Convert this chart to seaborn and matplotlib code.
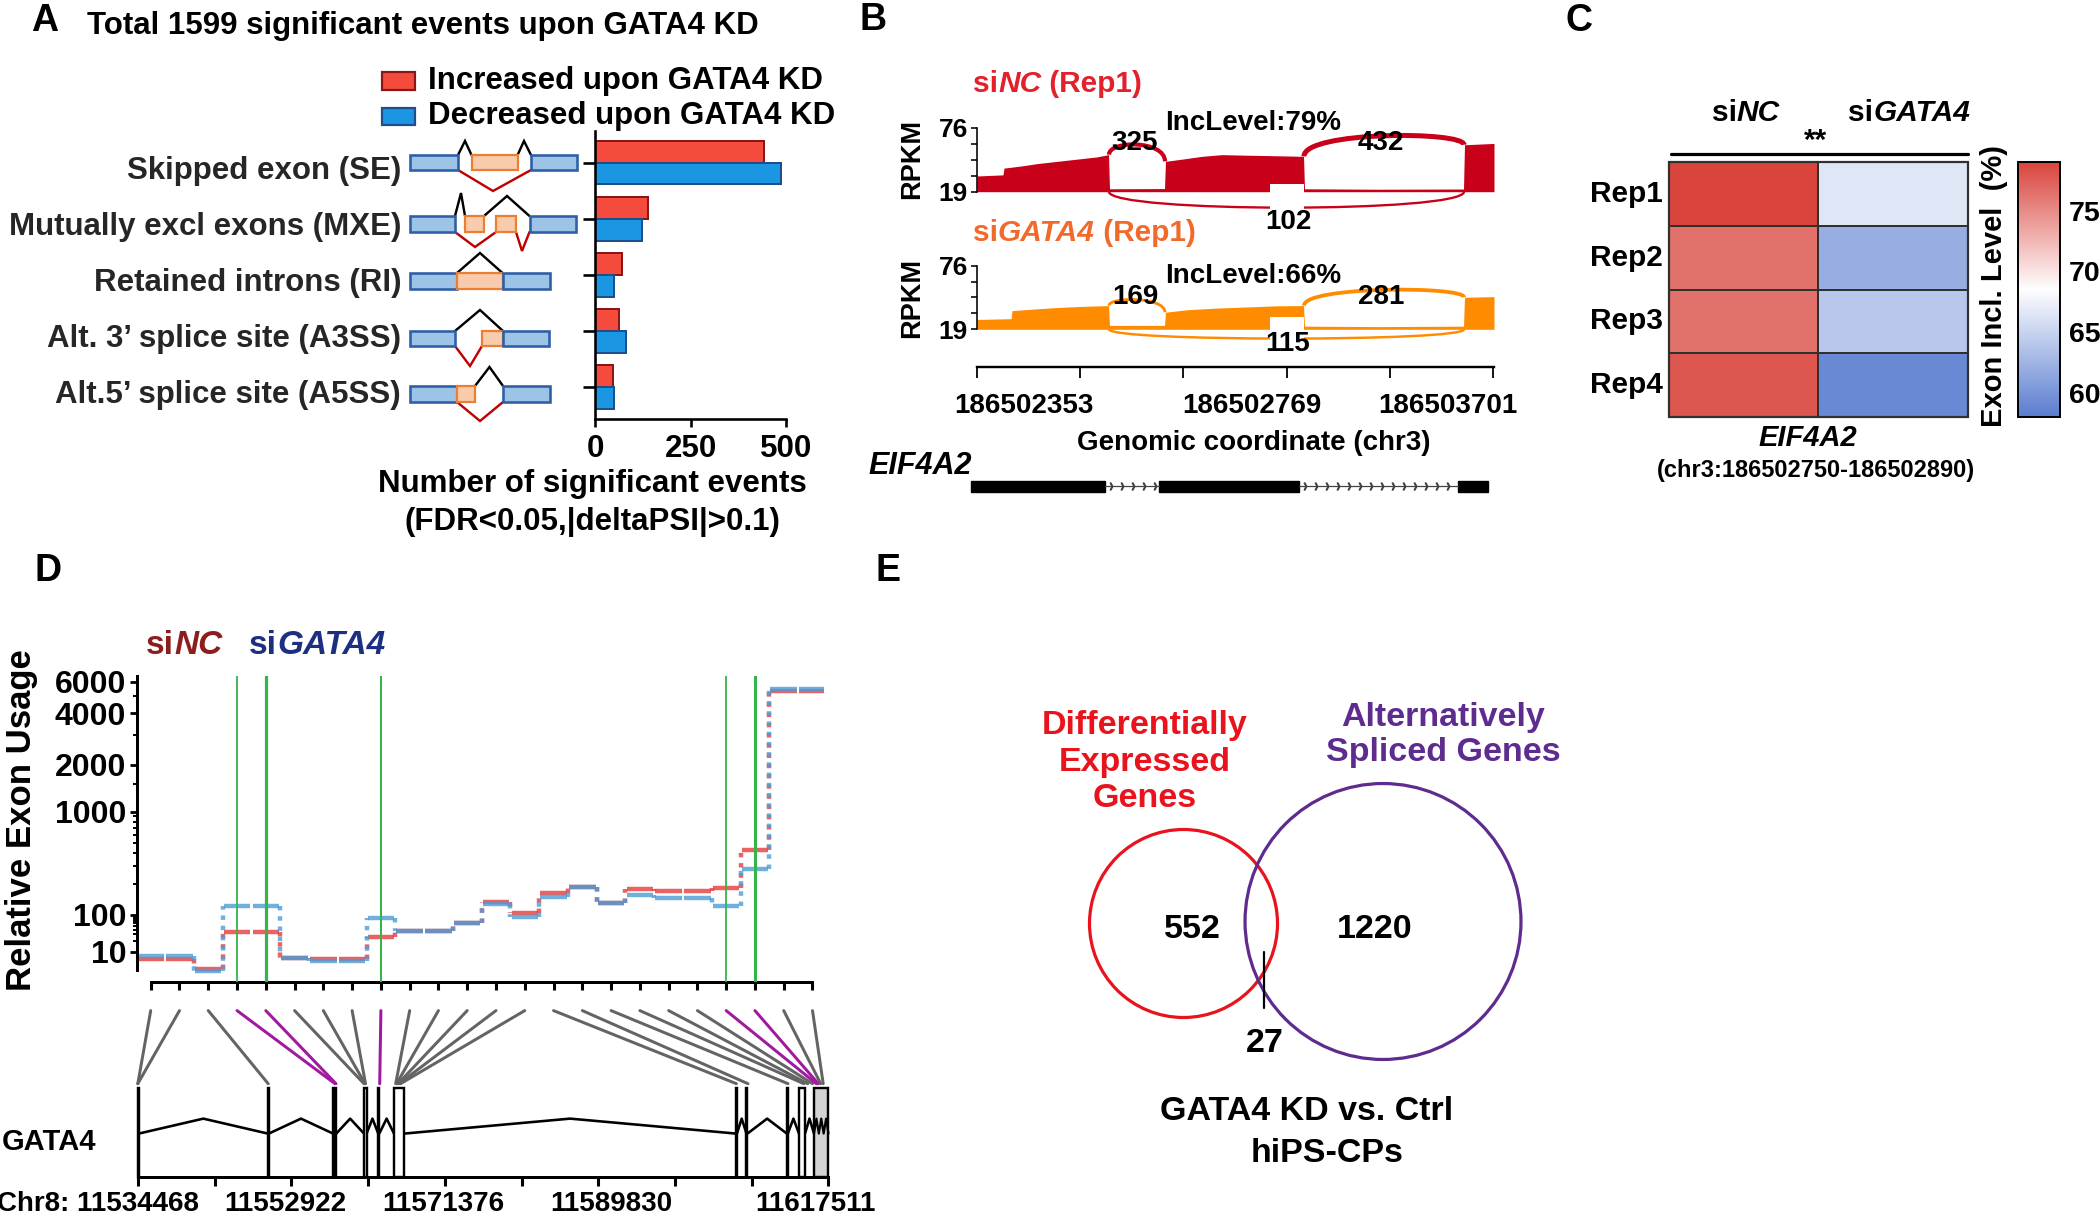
import numpy as np
import pandas as pd
import matplotlib
matplotlib.use("Agg")
import matplotlib.pyplot as plt
import matplotlib.transforms as mtransforms
from matplotlib.patches import Rectangle, Circle, ConnectionPatch, PathPatch
from matplotlib.path import Path
from matplotlib.colors import LinearSegmentedColormap
import seaborn as sns

# ------------------------------------------------------------------ data
# Panel A
EVENT_TYPES = ["Skipped exon (SE)", "Mutually excl exons (MXE)", "Retained introns (RI)",
               "Alt. 3\u2019 splice site (A3SS)", "Alt.5\u2019 splice site (A5SS)"]
EVENTS_UP = [443, 138, 71, 63, 48]
EVENTS_DOWN = [487, 124, 50, 81, 50]
DIRECTIONS = ["Increased upon GATA4 KD", "Decreased upon GATA4 KD"]
A_TICKS = [0, 250, 500]

# Panel B (sashimi, positions in track units)
COV_NC_X = [0, 26, 27, 45, 60, 80, 100, 120, 131.5, 132.5, 187.5, 188.5, 205, 225, 245, 270, 300,
            326.5, 327.5, 400, 486.5, 487.5, 505, 517]
COV_NC_Y = [33, 34, 40, 42, 44, 46, 48, 50, 52, 21.6, 21.8, 46, 48, 50.5, 52, 51.5, 51, 50.5,
            21.6, 21.2, 21.4, 60.8, 61.5, 62]
COV_KD_X = [0, 34, 35, 55, 80, 105, 131.5, 132.5, 187.5, 188.5, 210, 240, 270, 300, 326.5, 327.5,
            400, 486.5, 487.5, 517]
COV_KD_Y = [27.8, 28.5, 35.7, 37, 38.5, 39.5, 40.2, 22.5, 22.5, 34.3, 36.5, 38, 39, 40, 40.2, 21.8,
            21.4, 21.8, 47.7, 48.2]
JUNC_START = [132, 327, 132]
JUNC_END = [188, 487, 487]
JUNC_NC = [325, 432, 102]
JUNC_KD = [169, 281, 115]
INC_LEVEL = [79, 66]
RPKM_RANGE = [19, 76]
COORD_LABELS = ["186502353", "186502769", "186503701"]
EIF4A2_EXONS = [(-6.5, 127.5), (182, 322), (481, 511)]

# Panel C
REPS = ["Rep1", "Rep2", "Rep3", "Rep4"]
PSI_NC = [79.0, 76.5, 76.5, 78.0]
PSI_KD = [66.5, 62.0, 64.0, 59.0]

# Panel D
BIN_NC = [5.2, 5.2, 2.2, 34, 34, 6.0, 5.2, 5.2, 26, 37.7, 37.7, 59.7, 134.5, 105, 162, 188, 130,
          177, 171, 171, 181, 426, 5355, 5355]
BIN_KD = [7.0, 7.0, 1.9, 122, 122, 5.7, 4.6, 4.6, 81, 37.7, 37.7, 59.7, 127, 86.7, 150, 188, 130,
          156, 147, 147, 122, 279, 5490, 5490]
DEU_BINS = [3, 4, 8, 20, 21]
D_YTICKS = [10, 100, 1000, 2000, 4000, 6000]
GENE_START, GENE_END, GENE_STEP = 11534468, 11617511, 9227
GATA4_EXONS = [(11534468, 11534590), (11550100, 11550220), (11557950, 11558330),
               (11561664, 11561977), (11563380, 11563500), (11565271, 11566521),
               (11606380, 11606500), (11607650, 11607770), (11612500, 11612620),
               (11613964, 11614686), (11615769, 11617511)]
BIN_GENOMIC = [11534468, 11534468, 11550146, 11558178, 11558298, 11561665, 11561785, 11561845,
               11563552, 11565476, 11565584, 11565752, 11565872, 11566053, 11606438, 11607833,
               11612642, 11614542, 11615011, 11615588, 11616057, 11616286, 11616574, 11616875]

# Panel E
DE_ONLY, AS_ONLY, OVERLAP = 552, 1220, 27

# ------------------------------------------------------------------ style
sns.set_theme(style="white")
plt.rcParams["font.family"] = ["Liberation Sans", "DejaVu Sans"]
plt.rcParams["font.weight"] = "bold"
plt.rcParams["axes.labelweight"] = "bold"
plt.rcParams["axes.edgecolor"] = "black"
plt.rcParams["xtick.color"] = "black"
plt.rcParams["ytick.color"] = "black"
plt.rcParams["mathtext.default"] = "regular"

W, H = 2100, 1214
PT = 0.72  # px -> pt at 100 dpi
fig = plt.figure(figsize=(W / 100, H / 100), dpi=100)
fig.patch.set_facecolor("white")


def px_axes(l, t, r, b, **kw):
    return fig.add_axes([l / W, 1 - b / H, (r - l) / W, (b - t) / H], **kw)


ov = fig.add_axes([0, 0, 1, 1], zorder=20)
ov.set_xlim(0, W)
ov.set_ylim(H, 0)
ov.axis("off")
ov.patch.set_alpha(0)
renderer = fig.canvas.get_renderer()


def txt(x, y, s, size, **kw):
    kw.setdefault("ha", "center")
    kw.setdefault("va", "center")
    kw.setdefault("fontweight", "bold")
    kw.setdefault("color", "black")
    return ov.text(x, y, s, fontsize=size, **kw)


def rich(x, y, parts, size, ha="left"):
    objs, widths = [], []
    for s, c, it in parts:
        t = ov.text(0, y, s, fontsize=size, color=c, fontweight="bold",
                    fontstyle="italic" if it else "normal", ha="left", va="center")
        objs.append(t)
        widths.append(t.get_window_extent(renderer).width)
    x0 = x - sum(widths) / 2 if ha == "center" else x
    for t, w in zip(objs, widths):
        t.set_x(x0)
        x0 += w


# panel letters
for s, (x, y) in zip("ABCDE", [(45, 21), (873, 20), (1579, 21), (48, 571), (888, 571)]):
    txt(x, y, s, 27)

# ================================================================== Panel A
RED_A, RED_A_E = "#f44b3c", "#8c1515"
BLUE_A, BLUE_A_E = "#1b96e3", "#1f4e8c"
dfA = pd.DataFrame({
    "type": EVENT_TYPES * 2,
    "count": EVENTS_UP + EVENTS_DOWN,
    "direction": [DIRECTIONS[0]] * 5 + [DIRECTIONS[1]] * 5,
})
axA = px_axes(595, 131, 786, 419)
sns.barplot(data=dfA, x="count", y="type", hue="direction", orient="h", ax=axA,
            palette=[RED_A, BLUE_A], width=0.78, saturation=1, errorbar=None, legend=False,
            linewidth=2.0 * PT)
for i, p in enumerate(axA.patches[:10]):
    p.set_edgecolor(RED_A_E if i < 5 else BLUE_A_E)
axA.set_xlim(0, 500)
axA.set_ylim(4.574, -0.564)
axA.set_xticks(A_TICKS)
axA.set_yticks(range(5))
axA.set_yticklabels([""] * 5)
axA.set_xlabel("")
axA.set_ylabel("")
for s in ("top", "right"):
    axA.spines[s].set_visible(False)
for s in ("left", "bottom"):
    axA.spines[s].set_linewidth(2.6 * PT)
axA.tick_params(axis="y", length=8.5, width=2.6 * PT, direction="out", left=True)
axA.tick_params(axis="x", length=6, width=2.6 * PT, direction="out", labelsize=22.5, pad=5,
                bottom=True)

blA = mtransforms.blended_transform_factory(ov.transData, axA.transData)
for i, lab in enumerate(EVENT_TYPES):
    ov.text(401, i + 0.15, lab, transform=blA, fontsize=22.5, fontweight="bold", ha="right",
            va="center")

txt(87, 26, "Total 1599 significant events upon GATA4 KD", 22.5, ha="left")
# legend
for (y0, y1), fc, ec, lab, ty in [((72, 90), RED_A, RED_A_E, DIRECTIONS[0], 81),
                                  ((108, 125), BLUE_A, BLUE_A_E, DIRECTIONS[1], 116)]:
    ov.add_patch(Rectangle((382, y0), 33, y1 - y0, facecolor=fc, edgecolor=ec, lw=2.2 * PT))
    txt(428, ty, lab, 22.5, ha="left")
txt(592, 484, "Number of significant events", 22.5)
txt(592, 522, "(FDR<0.05,|deltaPSI|>0.1)", 22.5)

# schematics
SB_F, SB_E, SO_F, SO_E, SR = "#9dc3e6", "#2e5fa6", "#f8cbad", "#ed7d31", "#c00000"


def sbox(x0, x1, y0, y1, orange=False):
    ov.add_patch(Rectangle((x0, y0), x1 - x0, y1 - y0, facecolor=SO_F if orange else SB_F,
                           edgecolor=SO_E if orange else SB_E, lw=(2.2 if orange else 2.6) * PT,
                           zorder=3))


def sline(pts, color="black"):
    xs, ys = zip(*pts)
    ov.plot(xs, ys, color=color, lw=2.4 * PT, zorder=2, solid_joinstyle="miter")


# SE
sbox(410, 458, 155, 170); sbox(471.5, 517.6, 155, 170, True); sbox(531, 577, 155, 170)
sline([(458, 155), (465, 141), (471.5, 155)]); sline([(517.6, 155), (524, 141), (531, 155)])
sline([(458, 170), (493, 191), (531, 170)], SR)
# MXE
sbox(410, 455, 216, 232); sbox(465, 484, 216, 232, True); sbox(496, 516, 216, 232, True)
sbox(529.5, 575.6, 216, 232)
sline([(455, 216), (461, 193), (465, 216)]); sline([(484, 216), (507, 196), (529.5, 216)])
sline([(455, 232), (475, 247), (496, 232)], SR); sline([(516, 232), (522, 251), (529.5, 232)], SR)
# RI
sbox(410, 457, 273, 289); sbox(457, 502.5, 273, 289, True); sbox(502.5, 550, 273, 289)
sline([(457, 273), (480, 253), (502.5, 273)])
# A3SS
sbox(410, 455, 331, 346); sbox(482, 503, 331, 346, True); sbox(503, 548.5, 331, 346)
sline([(455, 331), (480, 310), (503, 331)]); sline([(455, 346), (470, 366), (482, 346)], SR)
# A5SS
sbox(410, 457, 386, 402); sbox(457, 475, 386, 402, True); sbox(503, 550, 386, 402)
sline([(475, 386), (489.5, 367), (503, 386)]); sline([(457, 402), (480, 421), (503, 402)], SR)

# ================================================================== Panel B
NC_RED, KD_OR = "#c8001a", "#ff8c00"
NC_LAB, KD_LAB = "#e3202b", "#f26a2b"


def arc(ax, x1, y1, x2, y2, peak, color, lw):
    c = (peak - 0.125 * (y1 + y2)) / 0.75
    path = Path([(x1, y1), (x1, c), (x2, c), (x2, y2)],
                [Path.MOVETO, Path.CURVE4, Path.CURVE4, Path.CURVE4])
    ax.add_patch(PathPatch(path, facecolor="none", edgecolor=color, lw=lw, clip_on=False,
                           zorder=3))


def track(top, bot, xs, ys, juncs, color, peaks):
    ax = px_axes(977, top, 1494, bot)
    ax.fill_between(xs, RPKM_RANGE[0], ys, color=color, lw=0, zorder=2)
    ax.set_xlim(0, 517)
    ax.set_ylim(*RPKM_RANGE)
    for s in ("top", "right", "bottom"):
        ax.spines[s].set_visible(False)
    ax.spines["left"].set_linewidth(1.6 * PT)
    ax.set_xticks([])
    ax.set_yticks(np.linspace(RPKM_RANGE[0], RPKM_RANGE[1], 5))
    ax.set_yticklabels([str(RPKM_RANGE[0]), "", "", "", str(RPKM_RANGE[1])])
    ax.tick_params(axis="y", length=4.6, width=1.6 * PT, labelsize=19, pad=2, left=True)
    cov = np.interp
    for (x1, x2, n), pk in zip(juncs, peaks):
        lw = (1.5 + n / max(JUNC_NC) * 3.5) * PT
        if pk > RPKM_RANGE[0]:
            arc(ax, x1, cov(x1 - 0.6, xs, ys), x2, cov(x2 + 0.6, xs, ys), pk, color, lw)
        else:
            arc(ax, x1, RPKM_RANGE[0], x2, RPKM_RANGE[0], pk, color, lw)
    return ax


axT1 = track(127.7, 191.7, COV_NC_X, COV_NC_Y, zip(JUNC_START, JUNC_END, JUNC_NC), NC_RED,
             [61, 68.8, 4.8])
axT2 = track(265.6, 329.3, COV_KD_X, COV_KD_Y, zip(JUNC_START, JUNC_END, JUNC_KD), KD_OR,
             [45.5, 54.3, 10.7])

rich(973, 84, [("si", NC_LAB, False), ("NC", NC_LAB, True), (" (Rep1)", NC_LAB, False)], 21.5)
rich(973, 233, [("si", KD_LAB, False), ("GATA4", KD_LAB, True), (" (Rep1)", KD_LAB, False)], 21.5)
txt(912.5, 159, "RPKM", 19.5, rotation=90)
txt(912.5, 298, "RPKM", 19.5, rotation=90)
# white label masks
ov.add_patch(Rectangle((1270, 184), 34, 48, facecolor="white", edgecolor="none", zorder=1))
ov.add_patch(Rectangle((1270, 317), 34, 38, facecolor="white", edgecolor="none", zorder=1))
txt(1253, 123, "IncLevel:%d%%" % INC_LEVEL[0], 20)
txt(1253, 276, "IncLevel:%d%%" % INC_LEVEL[1], 20)
for (x, y), n in zip([(1135, 143), (1381, 143), (1288, 222)], JUNC_NC):
    txt(x, y, str(n), 20, zorder=4)
for (x, y), n in zip([(1135, 297), (1381, 297), (1288, 344)], JUNC_KD):
    txt(x, y, str(n), 20, zorder=4)

axX = px_axes(977, 340, 1494, 367)
axX.set_xlim(0, 517)
axX.set_yticks([])
for s in ("top", "right", "left"):
    axX.spines[s].set_visible(False)
axX.spines["bottom"].set_linewidth(2.4 * PT)
axX.set_xticks(np.linspace(-1, 516, 6))
axX.set_xticklabels([""] * 6)
axX.tick_params(axis="x", length=8, width=1.8 * PT, direction="out", bottom=True)
axX.patch.set_alpha(0)
for x, lab in zip([1024, 1252, 1448], COORD_LABELS):
    txt(x, 406, lab, 20)
txt(1254, 443, "Genomic coordinate (chr3)", 20)
txt(868, 466, "EIF4A2", 22, ha="left", fontstyle="italic")

axGB = px_axes(977, 475, 1494, 497)
axGB.set_xlim(0, 517)
axGB.set_ylim(0, 1)
axGB.axis("off")
for a, b in EIF4A2_EXONS:
    axGB.add_patch(Rectangle((a, 0.25), b - a, 0.5, facecolor="black", edgecolor="black",
                             clip_on=False))
for (a0, a1), (b0, b1) in zip(EIF4A2_EXONS[:-1], EIF4A2_EXONS[1:]):
    axGB.plot([a1, b0], [0.5, 0.5], color="#444444", lw=0.9, clip_on=False)
    xs_ch = np.arange(a1 + 6, b0 - 3, 11)
    axGB.plot(xs_ch, np.full(len(xs_ch), 0.5), ls="none", marker=r"$\rangle$", ms=5,
              color="#444444", clip_on=False)

# ================================================================== Panel C
cmap = LinearSegmentedColormap.from_list("bwr_c", ["#5a7dd0", "#ffffff", "#d9443d"])
dfC = pd.DataFrame({"siNC": PSI_NC, "siGATA4": PSI_KD}, index=REPS)
axC = px_axes(1668.6, 162, 1968, 417)
cax = px_axes(2017.6, 162, 2060.4, 417)
sns.heatmap(dfC, ax=axC, cbar_ax=cax, cmap=cmap, vmin=58, vmax=79, linewidths=1.3,
            linecolor="#303030", xticklabels=False, yticklabels=REPS)
axC.add_patch(Rectangle((0, 0), 2, 4, fill=False, edgecolor="#303030", lw=1.6, clip_on=False))
axC.tick_params(axis="y", length=0, labelsize=21.5, pad=4, rotation=0)
for t in axC.get_yticklabels():
    t.set_fontweight("bold")
cb = axC.collections[0].colorbar
cb.outline.set_edgecolor("black")
cb.outline.set_linewidth(1.4)
cb.set_ticks([60, 65, 70, 75])
cax.tick_params(labelsize=20.5, direction="in", length=6, width=1.5, right=True, pad=6)
for t in cax.get_yticklabels():
    t.set_fontweight("bold")
rich(1746, 113, [("si", "black", False), ("NC", "black", True)], 21.5, ha="center")
rich(1909, 113, [("si", "black", False), ("GATA4", "black", True)], 21.5, ha="center")
txt(1816, 141, "**", 21.5)
ov.plot([1671, 1968], [154, 154], color="black", lw=3.2 * PT, solid_capstyle="round")
txt(1808, 438, "EIF4A2", 21, fontstyle="italic")
txt(1816, 471, "(chr3:186502750-186502890)", 17)
txt(1994, 286, "Exon Incl. Level  (%)", 21, rotation=90)

# ================================================================== Panel D
D_RED, D_BLUE, D_GREEN = "#e63b3b", "#4b9cd6", "#33b54a"
D_PURPLE, D_GREY = "#a0199f", "#646464"
LOGS = [-3, 0, 1, 2, 3, np.log10(2000), np.log10(4000), np.log10(6000), 5]
POS = [4 - 3 * 26, 4, 30, 67, 170.3, 217, 268.5, 300.2, 300.2 + 1.222 * 180]


def fwd(v):
    v = np.asarray(v, dtype=float)
    return np.interp(np.log10(np.clip(v, 1e-3, None)), LOGS, POS)


def inv(p):
    return 10 ** np.interp(np.asarray(p, dtype=float), POS, LOGS)


axD = px_axes(137.3, 676, 824, 982)
axD.set_yscale("function", functions=(fwd, inv))
DX = np.arange(len(BIN_NC))
for vals, col in ((BIN_NC, D_RED), (BIN_KD, D_BLUE)):
    v = np.asarray(vals, dtype=float)
    axD.hlines(v, DX - 0.46, DX + 0.46, colors=col, lw=3.2, alpha=0.8, zorder=2)
    axD.vlines(DX[:-1] + 0.5, v[:-1], v[1:], colors=col, lw=3.2, alpha=0.8,
               linestyles=(0, (1.0, 1.3)), zorder=2)
for b, lw in zip(DEU_BINS, [1.8, 3.2, 2.0, 1.8, 3.0]):
    axD.axvline(b, color=D_GREEN, lw=lw * PT, zorder=3)
axD.set_xlim(-0.466, 23.4)
axD.set_ylim(0.70, 6457)
axD.set_xticks(DX)
axD.set_xticklabels([""] * len(DX))
axD.set_yticks(D_YTICKS)
axD.set_yticklabels([str(t) for t in D_YTICKS])
axD.set_yticks([20, 30, 40, 50, 60, 70, 80, 90, 200, 300, 400, 500, 600, 700, 800, 900, 1500,
                3000, 5000], minor=True)
axD.yaxis.set_minor_formatter(matplotlib.ticker.NullFormatter())
for s in ("top", "right"):
    axD.spines[s].set_visible(False)
for s in ("left", "bottom"):
    axD.spines[s].set_linewidth(3.0 * PT)
axD.spines["left"].set_bounds(2.03, 6457)
axD.spines["bottom"].set_bounds(0, 23)
axD.tick_params(axis="x", length=5.5, width=2.2, direction="out", bottom=True)
axD.tick_params(axis="y", which="major", length=5, width=2.0, direction="out", labelsize=23,
                pad=3, left=True)
axD.tick_params(axis="y", which="minor", length=3, width=1.4, direction="out", left=True)
for t in axD.get_yticklabels():
    t.set_fontweight("bold")
axD.patch.set_alpha(0)
txt(22, 820, "Relative Exon Usage", 25, rotation=90)
rich(146, 646, [("si", "#8e1d1d", False), ("NC", "#8e1d1d", True)], 24)
rich(249, 646, [("si", "#1c2f80", False), ("GATA4", "#1c2f80", True)], 24)

axG = px_axes(137.8, 1083, 828.5, 1177)
axG.set_xlim(GENE_START, GENE_END)
axG.set_ylim(0, 1)
for s in ("top", "right", "left"):
    axG.spines[s].set_visible(False)
axG.spines["bottom"].set_linewidth(3.0 * PT)
axG.set_yticks([])
gt = np.arange(GENE_START, GENE_END + 1, GENE_STEP)
axG.set_xticks(gt)
axG.set_xticklabels([""] * len(gt))
axG.tick_params(axis="x", length=6.5, width=2.2, direction="out", bottom=True)
axG.patch.set_alpha(0)
for i, (a, b) in enumerate(GATA4_EXONS):
    last = i == len(GATA4_EXONS) - 1
    fc = "#d3d3d3" if last else ("black" if (b - a) < 700 and i == 2 else "white")
    axG.add_patch(Rectangle((a, 0), b - a, 0.947, facecolor=fc,
                            edgecolor="black", lw=2.4 * PT, clip_on=False, zorder=3))
for (a0, a1), (b0, b1) in zip(GATA4_EXONS[:-1], GATA4_EXONS[1:]):
    axG.plot([a1, (a1 + b0) / 2, b0], [0.462, 0.621, 0.462], color="black", lw=2.6 * PT,
             zorder=2, clip_on=False)
last0, last1 = GATA4_EXONS[-1]
zx = np.linspace(last0, last1, 7)
axG.plot(zx, [0.462, 0.621] * 3 + [0.462], color="black", lw=2.2 * PT, zorder=4, clip_on=False)

trA = mtransforms.blended_transform_factory(axD.transData, ov.transData)
trB = mtransforms.blended_transform_factory(axG.transData, ov.transData)
for i, g in enumerate(BIN_GENOMIC):
    col = D_PURPLE if i in DEU_BINS else D_GREY
    fig.add_artist(ConnectionPatch(xyA=(i, 1010.6), coordsA=trA, xyB=(g, 1083.7), coordsB=trB,
                                   color=col, lw=3.0 * PT, zorder=5))
txt(2, 1142, "GATA4", 21, ha="left")
txt(199, 1204, "Chr8: %d" % GENE_START, 20, ha="right")
for x, lab in zip([285.5, 443, 611, 815], [gt[2], gt[4], gt[6], GENE_END]):
    txt(x, 1204, str(lab), 20)

# ================================================================== Panel E
DE_COL, AS_COL = "#e8131d", "#5e2b8f"
k = 3.907
r_de = k * np.sqrt(DE_ONLY + OVERLAP)
r_as = k * np.sqrt(AS_ONLY + OVERLAP)
ov.add_patch(Circle((1183.5, 923.5), r_de, fill=False, edgecolor=DE_COL, lw=3.2 * PT))
ov.add_patch(Circle((1383, 921.5), r_as, fill=False, edgecolor=AS_COL, lw=3.2 * PT))
txt(1145, 762, "Differentially\nExpressed\nGenes", 24.5, color=DE_COL, linespacing=1.22)
txt(1443, 735, "Alternatively\nSpliced Genes", 24.5, color=AS_COL, linespacing=1.2)
txt(1192, 929, str(DE_ONLY), 24.5)
txt(1375, 929, str(AS_ONLY), 24.5)
txt(1265, 1043, str(OVERLAP), 24.5)
ov.plot([1263.6, 1263.6], [952, 1008], color="black", lw=2.2 * PT)
txt(1307, 1112, "GATA4 KD vs. Ctrl", 24.5)
txt(1327, 1153, "hiPS-CPs", 24.5)

fig.savefig("out.png", dpi=100, facecolor="white")
